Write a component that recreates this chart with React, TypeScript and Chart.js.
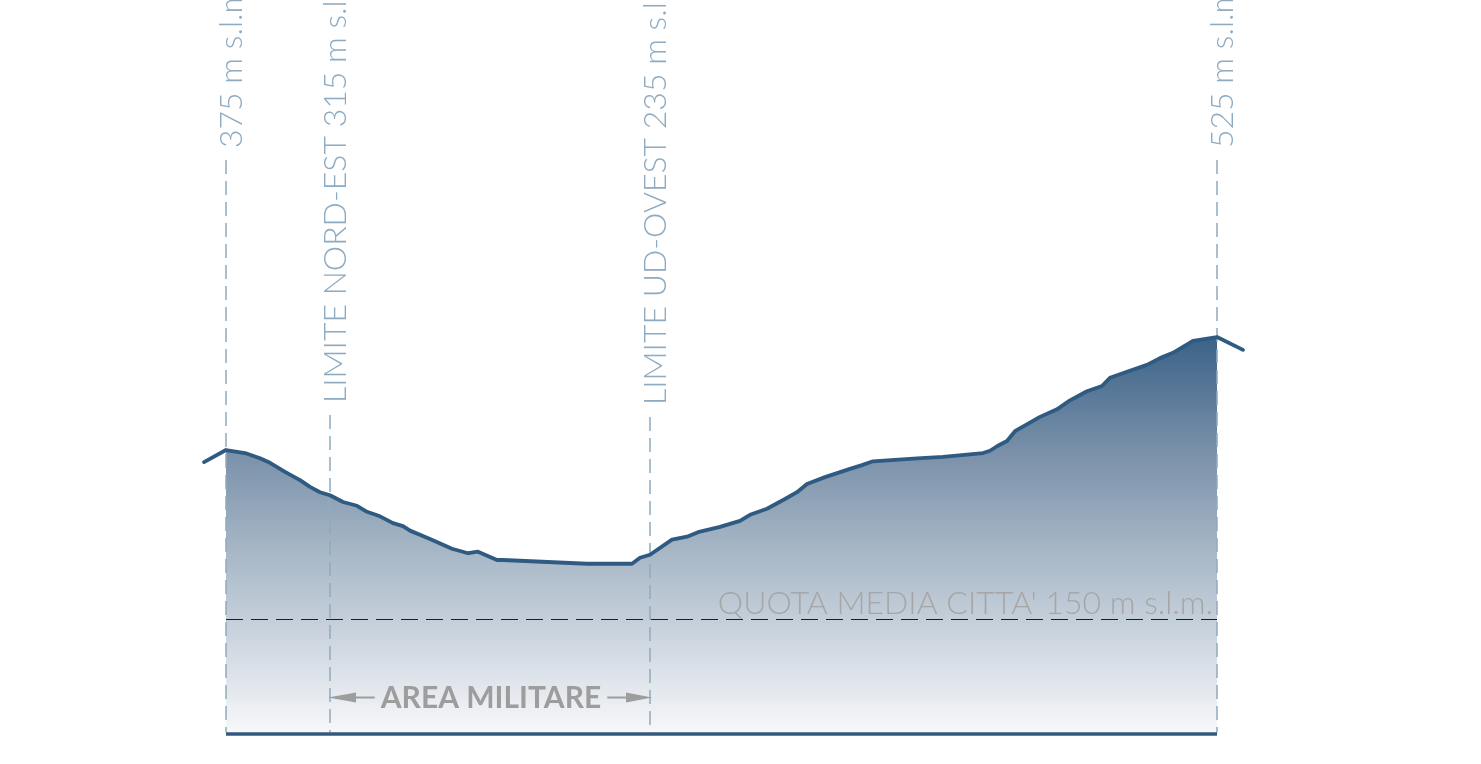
import { useEffect, useRef } from "react";
import { Chart, registerables } from "chart.js";

Chart.register(...registerables);

// Profile: progressive distance (arbitrary units) and elevation (m s.l.m.)
const distances = [
  -22, 0, 19, 34, 44, 59, 74, 84, 94, 104, 117, 131, 141, 154, 167, 177, 184, 204, 226, 242, 252, 271,
  277, 361, 406, 414, 424, 446, 461, 472, 494, 514, 524, 541, 559, 571, 581, 599, 624, 636, 647, 691,
  717, 757, 764, 771, 781, 789, 814, 831, 844, 861, 876, 884, 901, 921, 934, 947, 967, 991, 1017,
];
const elevations = [
  359, 375, 371, 364, 358, 346, 335, 326, 319, 315, 306, 301, 293, 287, 278, 274, 268, 257, 244, 238, 240, 229,
  229, 224, 224, 232, 236, 256, 260, 266, 273, 281, 289, 297, 310, 319, 330, 339, 350, 355, 360, 364,
  366, 371, 374, 380, 387, 400, 419, 429, 441, 453, 460, 471, 479, 488, 497, 504, 520, 525, 508,
];

// Reference markers
const markerDistances = [0, 104, 424, 991];
const markerElevations = [375, 315, 235, 525];
const markerLabels = [
  "375 m s.l.m.",
  "LIMITE NORD-EST 315 m s.l.m.",
  "LIMITE UD-OVEST 235 m s.l.m.",
  "525 m s.l.m.",
];

const cityMeanElevation = 150;
const cityMeanLabel = "QUOTA MEDIA CITTA' 150 m s.l.m.";
const areaLabel = "AREA MILITARE";
const areaStart = markerDistances[1];
const areaEnd = markerDistances[2];

// layout (pixels) for the rotated marker labels: where each label text starts
const labelStartY = [148, 403, 405, 148];

const FONT = "Lato, 'Open Sans', 'DejaVu Sans', sans-serif";

const overlayPlugin = {
  id: "overlay",
  afterDatasetDraw(chart: any, args: any) {
    if (args.index !== 1) return;
    const { ctx, scales } = chart;
    const xs = scales.x;
    const ys = scales.y;
    const xFirst = xs.getPixelForValue(markerDistances[0]);
    const xLast = xs.getPixelForValue(markerDistances[markerDistances.length - 1]);
    const yBase = ys.getPixelForValue(0);

    ctx.save();

    // vertical dashed marker lines
    ctx.strokeStyle = "#8eaabf";
    ctx.lineWidth = 1.5;
    ctx.setLineDash([14, 7]);
    markerDistances.forEach((d, i) => {
      const px = xs.getPixelForValue(d);
      ctx.beginPath();
      ctx.moveTo(px, labelStartY[i] + 12);
      ctx.lineTo(px, yBase);
      ctx.stroke();
    });

    // city mean elevation dashed line
    const yMean = ys.getPixelForValue(cityMeanElevation);
    ctx.strokeStyle = "#1e1e1e";
    ctx.lineWidth = 1.2;
    ctx.setLineDash([17, 8]);
    ctx.beginPath();
    ctx.moveTo(xFirst, yMean);
    ctx.lineTo(xLast, yMean);
    ctx.stroke();
    ctx.setLineDash([]);

    // baseline
    ctx.strokeStyle = "#33587d";
    ctx.lineWidth = 3.5;
    ctx.beginPath();
    ctx.moveTo(xFirst, yBase + 1.5);
    ctx.lineTo(xLast, yBase + 1.5);
    ctx.stroke();

    // marker labels (rotated)
    ctx.fillStyle = "#8eabc1";
    ctx.font = `300 32px ${FONT}`;
    ctx.textAlign = "left";
    ctx.textBaseline = "alphabetic";
    markerLabels.forEach((t, i) => {
      const px = xs.getPixelForValue(markerDistances[i]);
      ctx.save();
      ctx.translate(px + 16, labelStartY[i]);
      ctx.rotate(-Math.PI / 2);
      ctx.fillText(t, 0, 0);
      ctx.restore();
    });

    // city mean label
    ctx.fillStyle = "#a6a6a6";
    ctx.font = `300 32px ${FONT}`;
    ctx.textAlign = "right";
    ctx.fillText(cityMeanLabel, xLast - 4, yMean - 6);

    // area militare label with arrows
    const xa = xs.getPixelForValue(areaStart);
    const xb = xs.getPixelForValue(areaEnd);
    const yArrow = yBase - 35;
    ctx.fillStyle = "#9d9d9d";
    ctx.strokeStyle = "#9d9d9d";
    ctx.font = `bold 30px ${FONT}`;
    ctx.textAlign = "center";
    ctx.textBaseline = "middle";
    const cx = (xa + xb) / 2 + 1;
    ctx.fillText(areaLabel, cx, yArrow + 1);
    const half = ctx.measureText(areaLabel).width / 2;
    ctx.lineWidth = 2;
    // left arrow
    ctx.beginPath();
    ctx.moveTo(cx - half - 6, yArrow);
    ctx.lineTo(xa + 20, yArrow);
    ctx.stroke();
    ctx.beginPath();
    ctx.moveTo(xa - 2, yArrow);
    ctx.lineTo(xa + 26, yArrow - 5);
    ctx.lineTo(xa + 26, yArrow + 5);
    ctx.closePath();
    ctx.fill();
    // right arrow
    ctx.beginPath();
    ctx.moveTo(cx + half + 6, yArrow);
    ctx.lineTo(xb - 20, yArrow);
    ctx.stroke();
    ctx.beginPath();
    ctx.moveTo(xb + 2, yArrow);
    ctx.lineTo(xb - 24, yArrow - 5);
    ctx.lineTo(xb - 24, yArrow + 5);
    ctx.closePath();
    ctx.fill();

    ctx.restore();
  },
};

export default function App() {
  const ref = useRef<HTMLCanvasElement | null>(null);

  useEffect(() => {
    if (!ref.current) return;
    const profile = distances.map((d, i) => ({ x: d, y: elevations[i] }));
    const first = markerDistances[0];
    const last = markerDistances[markerDistances.length - 1];
    const area = profile.filter((p) => p.x >= first && p.x <= last);
    const top = Math.max(...markerElevations);

    const chart = new Chart(ref.current, {
      type: "line",
      data: {
        datasets: [
          {
            label: "Profilo",
            data: profile,
            borderColor: "#2f5a82",
            borderWidth: 3.8,
            borderJoinStyle: "round",
            borderCapStyle: "round",
            pointRadius: 0,
            tension: 0,
            fill: false,
          },
          {
            label: "Area",
            data: area,
            borderWidth: 0,
            borderColor: "rgba(0,0,0,0)",
            pointRadius: 0,
            tension: 0,
            fill: "origin",
            backgroundColor: (c: any) => {
              const ch = c.chart;
              if (!ch.chartArea) return "rgba(0,0,0,0)";
              const y0 = ch.scales.y.getPixelForValue(top);
              const y1 = ch.scales.y.getPixelForValue(0);
              const g = ch.ctx.createLinearGradient(0, y0, 0, y1);
              g.addColorStop(0, "#3b6288");
              g.addColorStop(0.3, "#7b92aa");
              g.addColorStop(0.55, "#a8b8c7");
              g.addColorStop(0.72, "#c5cfda");
              g.addColorStop(1, "#f7f8fa");
              return g;
            },
          },
        ],
      },
      options: {
        animation: false,
        responsive: false,
        events: [],
        layout: { padding: 0 },
        plugins: { legend: { display: false }, tooltip: { enabled: false } },
        scales: {
          x: { type: "linear", min: -226, max: 1255, display: false },
          y: { type: "linear", min: -41.8, max: 972.4, display: false },
        },
      },
      plugins: [overlayPlugin],
    });
    return () => chart.destroy();
  }, []);

  return (
    <div style={{ position: "absolute", left: 0, top: 0, width: 1481, height: 764, background: "#fff" }}>
      <canvas ref={ref} width={1481} height={764} />
    </div>
  );
}
